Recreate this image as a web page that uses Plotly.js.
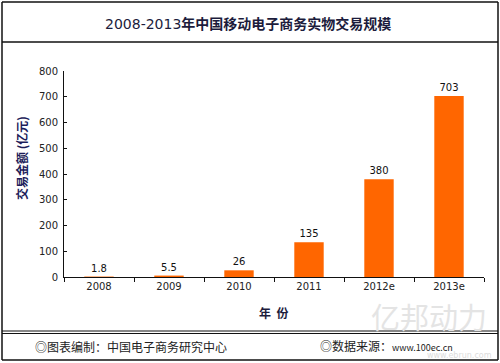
<!DOCTYPE html>
<html>
<head>
<meta charset="utf-8">
<script src="https://cdn.plot.ly/plotly-3.0.1.min.js"></script>
<style>html,body{margin:0;padding:0;background:#fff;}#chart{width:500px;height:363px;}</style>
</head>
<body>
<div id="chart"></div>
<script>
const years = ["2008", "2009", "2010", "2011", "2012e", "2013e"];
const values = [1.8, 5.5, 26, 135, 380, 703];
const valueLabels = ["1.8", "5.5", "26", "135", "380", "703"];
const yTicks = [0, 100, 200, 300, 400, 500, 600, 700, 800];

const W = 500, H = 363;
const L = 64, R = 16, T = 71, B = 86;
const pw = W - L - R, ph = H - T - B;
const px = v => (v - L) / pw;
const py = v => (H - B - v) / ph;

const cjk = '"Noto Sans CJK SC", "DejaVu Sans", sans-serif';
const num = '"DejaVu Sans", "Liberation Sans", sans-serif';

const trace = {
  type: 'bar',
  x: years,
  y: values,
  text: valueLabels,
  textposition: 'outside',
  cliponaxis: false,
  textfont: {family: num, size: 10, color: '#111'},
  marker: {color: '#ff6600'},
  width: 0.42,
  hoverinfo: 'skip'
};

function line(x0, y0, x1, y1, w) {
  return {type: 'line', xref: 'paper', yref: 'paper',
    x0: px(x0), y0: py(y0), x1: px(x1), y1: py(y1),
    line: {color: '#111', width: w || 1.5}};
}

const layout = {
  width: W, height: H,
  margin: {l: L, r: R, t: T, b: B},
  paper_bgcolor: '#fff', plot_bgcolor: '#fff',
  showlegend: false,
  xaxis: {
    type: 'category', range: [-0.5, 5.5],
    showline: true, linecolor: '#111', linewidth: 1,
    ticks: 'outside', ticklen: 4, tickcolor: '#111', tickson: 'boundaries',
    tickfont: {family: num, size: 10, color: '#222'},
    showgrid: false, zeroline: false, fixedrange: true
  },
  yaxis: {
    range: [0, 800], tickvals: yTicks,
    showline: true, linecolor: '#111', linewidth: 1,
    ticks: 'inside', ticklen: 3, tickcolor: '#111',
    tickfont: {family: num, size: 10, color: '#222'},
    ticklabelstandoff: 3,
    showgrid: false, zeroline: false, fixedrange: true
  },
  shapes: [
    line(2, 2, 498, 2), line(2, 360, 498, 360),
    line(2, 2, 2, 360), line(498, 2, 498, 360),
    line(2, 42, 498, 42),
    line(2, 331, 498, 331, 1), line(2, 333.5, 498, 333.5, 1)
  ],
  annotations: [
    {xref: 'paper', yref: 'paper', x: px(248), y: py(23), xanchor: 'center', yanchor: 'middle',
     showarrow: false,
     text: '<span style="font-family:DejaVu Sans;font-weight:normal">2008-2013</span><b>年中国移动电子商务实物交易规模</b>',
     font: {family: cjk, size: 14, color: '#1c1c3c'}},
    {xref: 'paper', yref: 'paper', x: px(21), y: py(158), xanchor: 'center', yanchor: 'middle',
     showarrow: false, textangle: -90,
     text: '<b>交易金额 (亿元)</b>', font: {family: cjk, size: 12, color: '#1c1c5a'}},
    {xref: 'paper', yref: 'paper', x: px(273), y: py(312), xanchor: 'center', yanchor: 'middle',
     showarrow: false, text: '<b>年  份</b>', font: {family: cjk, size: 12, color: '#1c1c3c'}},
    {xref: 'paper', yref: 'paper', x: px(429), y: py(316), xanchor: 'center', yanchor: 'middle',
     showarrow: false, text: '亿邦动力', font: {family: cjk, size: 29, color: '#e4e4e4'}},
    {xref: 'paper', yref: 'paper', x: px(33), y: py(346), xanchor: 'left', yanchor: 'middle',
     showarrow: false, text: '◎图表编制：中国电子商务研究中心', font: {family: cjk, size: 12, color: '#222'}},
    {xref: 'paper', yref: 'paper', x: px(494), y: py(355), xanchor: 'right', yanchor: 'middle',
     showarrow: false, text: 'www.ebrun.com', font: {family: num, size: 8, color: '#dcdcdc'}},
    {xref: 'paper', yref: 'paper', x: px(318), y: py(345), xanchor: 'left', yanchor: 'middle',
     showarrow: false, text: '◎数据来源：<span style="font-size:9px">www.100ec.cn</span>', font: {family: cjk, size: 12, color: '#222'}}
  ]
};

Plotly.newPlot('chart', [trace], layout, {staticPlot: true, displayModeBar: false});
</script>
</body>
</html>
